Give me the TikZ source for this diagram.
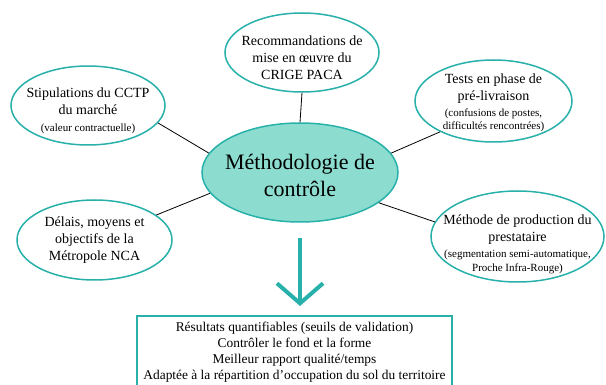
\documentclass[tikz,border=0pt]{standalone}
\usepackage{fontspec}
\setmainfont{Liberation Serif}
\usetikzlibrary{positioning, shapes.geometric, arrows.meta}
\definecolor{tealline}{RGB}{40,176,170}
\definecolor{tealfill}{RGB}{140,221,207}
\newcommand{\petit}{\fontsize{11}{13}\selectfont}

\begin{document}
\begin{tikzpicture}[x=1pt, y=-1pt,
  bulle/.style={ellipse, draw=tealline, line width=1.5pt, fill=white, inner sep=0pt},
  texte/.style={align=center, font=\fontsize{14}{17}\selectfont},
  lien/.style={draw=black, line width=0.8pt},
  fleche/.style={draw=tealline, line width=4pt, -{Straight Barb[length=20pt, width=46pt]}}] % 1 unité = 1 px

\useasboundingbox (0,0) rectangle (606,385);

\node[bulle, fill=tealfill, minimum width=196pt, minimum height=99pt,
  label={[align=center, font=\fontsize{22}{27}\selectfont, yshift=-3pt]center:M\'ethodologie de\\contr\^ole}] (main) at (300,172.5) {};
\node[bulle, minimum width=154pt, minimum height=79pt,
  label={[texte, yshift=-5pt]center:Recommandations de\\mise en \oe uvre du\\CRIGE PACA}] (rec) at (302,52.5) {};
\node[bulle, minimum width=154pt, minimum height=79pt,
  label={[texte, yshift=-5pt]center:Stipulations du CCTP\\du march\'e\\{\petit(valeur contractuelle)}}] (stip) at (88,105.5) {};
\node[bulle, minimum width=157pt, minimum height=82pt,
  label={[texte, yshift=-2pt]center:Tests en phase de\\pr\'e-livraison\\[-1pt]{\petit(confusions de postes,}\\[-4pt]{\petit difficult\'es rencontr\'ees)}}] (tests) at (493.5,101) {};
\node[bulle, minimum width=155pt, minimum height=80pt,
  label={[texte]center:D\'elais, moyens et\\objectifs de la\\M\'etropole NCA}] (delais) at (94.5,240) {};
\node[bulle, minimum width=173pt, minimum height=91pt,
  label={[texte, yshift=-8pt]center:M\'ethode de production du\\prestataire\\[-1pt]{\petit(segmentation semi-automatique,}\\[-3pt]{\petit Proche Infra-Rouge)}}] (meth) at (517.5,236.5) {};

\node[draw=tealline, line width=2pt, fill=white, anchor=north, minimum width=315pt, minimum height=70pt,
  align=center, font=\fontsize{13.4}{16}\selectfont, inner ysep=2pt, text depth=0pt] (cadre) at (294.5,315)
  {R\'esultats quantifiables (seuils de validation)\\Contr\^oler le fond et la forme\\Meilleur rapport qualit\'e/temps\\Adapt\'ee \`a la r\'epartition d'occupation du sol du territoire};

\draw[lien] (main.90) -- (rec.-90);
\draw[lien] (main.168) -- (stip.-14);
\draw[lien] (main.12) -- (tests.-150);
\draw[lien] (main.193) -- (delais.22);
\draw[lien] (main.-21) -- (meth.170);
\draw[fleche] ([yshift=-15pt]main.south) -- ([yshift=9pt]cadre.north -| main.south);

\end{tikzpicture}
\end{document}
